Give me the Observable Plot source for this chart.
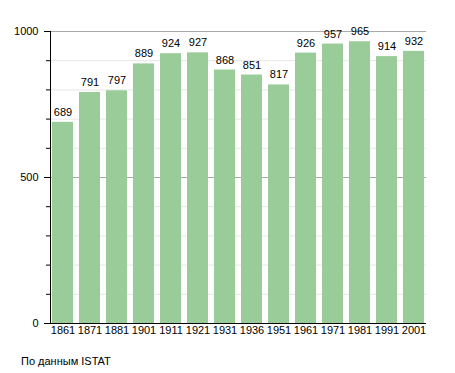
<!DOCTYPE html>
<html>
<head>
<meta charset="utf-8">
<script src="https://cdn.jsdelivr.net/npm/d3@7"></script>
<script src="https://cdn.jsdelivr.net/npm/@observablehq/plot@0.6"></script>
<style>
  body { margin: 0; background: #fff; font-family: "Liberation Sans", Arial, sans-serif; }
  #wrap { position: relative; width: 455px; height: 373px; }
  #caption { position: absolute; left: 21px; top: 355px; font-size: 11px; color: #000; }
</style>
</head>
<body>
<div id="wrap"><div id="chart"></div><div id="caption"></div></div>
<script>
const years = ["1861","1871","1881","1901","1911","1921","1931","1936","1951","1961","1971","1981","1991","2001"];
const population = [689, 791, 797, 889, 924, 927, 868, 851, 817, 926, 957, 965, 914, 932];
const majorTicks = [0, 500, 1000];
const minorTicks = [100, 200, 300, 400, 600, 700, 800, 900];
const caption = "По данным ISTAT";

const data = years.map((y, i) => ({year: y, value: population[i]}));

const chart = Plot.plot({
  width: 455,
  height: 345,
  marginLeft: 50,
  marginRight: 29,
  marginTop: 31,
  marginBottom: 22,
  style: {fontFamily: "Liberation Sans, Arial, sans-serif", fontSize: "11px", color: "#000", background: "#fff"},
  x: {domain: years, paddingInner: 0.22, paddingOuter: 0.02, label: null},
  y: {domain: [0, 1000], label: null},
  marks: [
    Plot.gridY(minorTicks, {stroke: "#e6e6e6", strokeOpacity: 1}),
    Plot.gridY([500, 1000], {stroke: "#aaaaaa", strokeOpacity: 1}),
    Plot.barY(data, {x: "year", y: "value", fill: "#99cc99"}),
    Plot.text(data, {x: "year", y: "value", text: d => String(d.value), dy: -10, fill: "#000", fontSize: 11}),
    Plot.axisY(minorTicks, {tickSize: 4, tickFormat: () => "", stroke: "#000"}),
    Plot.axisY(majorTicks, {tickSize: 6, tickPadding: 6, tickFormat: d => String(d), stroke: "#000", fill: "#000"}),
    Plot.axisX({tickSize: 0, tickPadding: 3, fill: "#000"}),
    Plot.frame({anchor: "left", stroke: "#000"}),
    Plot.ruleY([0], {stroke: "#000", insetLeft: -5})
  ]
});
document.getElementById("chart").appendChild(chart);
document.getElementById("caption").textContent = caption;
</script>
</body>
</html>
